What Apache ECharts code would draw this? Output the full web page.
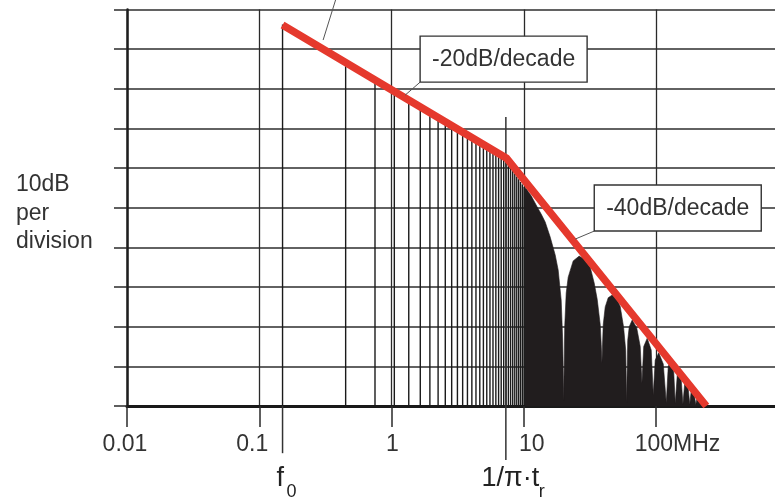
<!DOCTYPE html>
<html><head><meta charset="utf-8">
<script src="https://cdn.jsdelivr.net/npm/echarts@6/dist/echarts.min.js"></script>
<style>html,body{margin:0;padding:0;background:#fff}#c{width:775px;height:499px}</style>
</head><body><div id="c"></div>
<script>
// ---- data ----
const decadeLabels = ['0.01', '0.1', '1', '10', '100MHz'];
// discrete odd harmonics (MHz) and their level (dB, 10 dB per division)
const harmonicFreqs = [0.15,0.45,0.75,1.05,1.35,1.65,1.95,2.25,2.55,2.85,3.15,3.45,3.75,4.05,4.35,4.65,4.95,5.25,5.55,5.85,6.15,6.45,6.75,7.05,7.35,7.65,7.95,8.25,8.55,8.85,9.15,9.45,9.75,10.05,10.35];
const harmonicLevels = [96.2,86.7,82.2,79.3,77.1,75.4,73.9,72.7,71.6,70.6,69.8,69.0,68.2,67.6,67.0,66.4,65.8,65.3,64.8,64.4,63.9,63.5,63.1,62.8,61.8,61.0,60.2,59.4,58.6,57.9,57.2,56.5,55.9,55.3,54.7];
// outline of the dense (merged) part of the spectrum: sinc lobes
const lobeFreqs = [10.25,11.38,12.63,13.54,14.52,15.84,17.28,18.2,19.18,19.69,20.04,
  20.39,20.93,21.67,23.64,26.24,28.63,31.79,34.08,35.91,37.84,38.51,38.98,
  39.87,41.28,43.49,46.63,49.99,53.6,56.78,58.99,59.83,
  61.09,62.71,66.07,71.45,75.94,78.22,
  80.72,85.77,91.97,95.24,
  98.6,104.8,113.4,119.5,
  123.7,129.2,136.1,139.7,
  144.7,149.8,155.1,159.7,
  164.8,169.2,175.2,179.8,
  184.6,189.5,194.5,199.7,
  205.0,210.4,216.0,221.7,
  227.5,233.6,239.7];
const lobeLevels = [55.2,53.0,50.2,48.4,46.4,42.6,38.1,34.3,26.7,16.6,1.5,
  20.0,28.5,32.5,36.6,37.8,37.0,35.0,31.0,26.9,20.5,15.5,10.9,
  20.5,25.0,27.3,28.0,27.3,25.1,20.0,14.0,0.8,
  16.5,20.0,21.7,19.7,15.0,5.8,
  15.0,17.1,14.1,2.8,
  11.6,13.4,10.6,0.8,
  10.0,11.3,8.5,0.6,
  7.8,8.4,6.5,0.5,
  5.8,6.2,4.5,0.4,
  3.9,4.2,3.0,0.3,
  2.3,2.4,1.6,0.2,
  1.1,1.0,0];
// red asymptotic envelope
const envelopeFreqs = [0.15, 7.4, 240];
const envelopeLevels = [96.1, 62.5, 0];
// slope call-outs
const slopeLabels = ['-20dB/decade', '-40dB/decade'];
const slopeAnchorFreqs = [1.267, 24.5];
const slopeAnchorLevels = [78.4, 42.1];
// pointer from a label above the chart
const pointerFreqs = [0.304];
const pointerLevels = [92.3];
// frequency markers f0 and 1/(pi*tr)
const markerFreqs = [0.15, 7.32];
const markerTops = [0, 72.9];
const markerBottoms = [-11.9, -13.6];
const markerMain = ['f', '1/\u03C0\u00B7t'];
const markerSub = ['0', 'r'];
const scaleText = ['10dB', 'per', 'division'];

const FONT = '"Liberation Sans", Arial, Helvetica, sans-serif';
const TXT = '#333';

const labelShift = [-2, -7, 1, 8, 21.5];
const rich = {};
labelShift.forEach((s, i) => {
  rich['l' + i] = {fontFamily: FONT, fontSize: 23, color: TXT,
    padding: s >= 0 ? [0, 0, 0, 2 * s] : [0, -2 * s, 0, 0]};
});

const chart = echarts.init(document.getElementById('c'), null, {renderer: 'canvas'});
chart.setOption({
  animation: false,
  backgroundColor: '#fff',
  grid: {left: 127, right: -13.3, top: 9.5, bottom: 93, containLabel: false, outerBoundsMode: 'none'},
  xAxis: [{
    type: 'log', logBase: 10, min: 0.01, max: 1000,
    axisLine: {show: true, onZero: false, lineStyle: {color: '#1a1a1a', width: 3}},
    axisTick: {show: true, length: 21, lineStyle: {color: '#2a2a2a', width: 1.5}},
    minorTick: {show: false}, minorSplitLine: {show: false},
    splitLine: {show: true, lineStyle: {color: '#2a2a2a', width: 1.3}},
    axisLabel: {
      margin: 27, fontFamily: FONT, fontSize: 23, color: TXT, rich: rich,
      formatter: v => {
        const i = Math.round(Math.log10(v)) + 2;
        if (i < 0 || i >= decadeLabels.length) return '';
        return '{l' + i + '|' + decadeLabels[i] + '}';
      }
    }
  }, {
    type: 'log', logBase: 10, min: 0.01, max: 1000, position: 'top',
    axisLine: {show: true, lineStyle: {color: '#1a1a1a', width: 2.5}},
    axisTick: {show: false}, axisLabel: {show: false}, splitLine: {show: false}
  }],
  yAxis: {
    type: 'value', min: 0, max: 100, interval: 10,
    axisLabel: {show: false},
    axisTick: {show: true, length: 13, lineStyle: {color: '#2a2a2a', width: 1.5}},
    axisLine: {show: true, lineStyle: {color: '#1e1e1e', width: 2.5}},
    splitLine: {show: true, lineStyle: {color: '#2e2e2e', width: 1.5}}
  },
  graphic: scaleText.map((t, i) => ({
    type: 'text', left: 16, top: [173.5, 202, 230.5][i],
    style: {text: t, font: '23px ' + FONT, fill: TXT}
  })),
  series: [
    {
      type: 'custom', name: 'harmonics', silent: true, z: 3,
      data: harmonicFreqs.map((f, i) => [f, harmonicLevels[i]]),
      encode: {x: 0, y: 1},
      renderItem: (p, api) => {
        const a = api.coord([api.value(0), 0]);
        const b = api.coord([api.value(0), api.value(1)]);
        return {type: 'line', shape: {x1: a[0], y1: a[1], x2: b[0], y2: b[1]},
          style: {stroke: '#1a1a1a', lineWidth: 1.4}};
      }
    },
    {
      type: 'line', name: 'lobes', silent: true, z: 3, symbol: 'none',
      data: lobeFreqs.map((f, i) => [f, lobeLevels[i]]),
      lineStyle: {color: '#211d1e', width: 0.6},
      areaStyle: {color: '#211d1e', opacity: 1}
    },
    {
      type: 'custom', name: 'markers', silent: true, z: 4, clip: false,
      data: markerFreqs.map((f, i) => [f, markerTops[i], markerBottoms[i]]),
      encode: {x: 0, y: [1, 2]},
      renderItem: (p, api) => {
        const i = p.dataIndex;
        const a = api.coord([api.value(0), api.value(1)]);
        const b = api.coord([api.value(0), api.value(2)]);
        const mx = i === 0 ? -6 : -24.3, my = i === 0 ? 12 : 5;
        const sx = i === 0 ? 4 : 33, sy = i === 0 ? 30 : 23;
        return {type: 'group', children: [
          {type: 'line', shape: {x1: a[0], y1: a[1], x2: b[0], y2: b[1]},
            style: {stroke: '#333', lineWidth: 1.5}},
          {type: 'text', x: b[0] + mx, y: b[1] + my,
            style: {text: markerMain[i], font: '27px ' + FONT, fill: '#222', verticalAlign: 'top', align: 'left'}},
          {type: 'text', x: b[0] + sx, y: b[1] + sy,
            style: {text: markerSub[i], font: '18px ' + FONT, fill: '#222', verticalAlign: 'top', align: 'left'}}
        ]};
      }
    },
    {
      type: 'line', name: 'envelope', silent: true, z: 5, symbol: 'none',
      data: envelopeFreqs.map((f, i) => [f, envelopeLevels[i]]),
      lineStyle: {color: '#e5392d', width: 7.5, cap: 'butt', join: 'miter'}
    },
    {
      type: 'custom', name: 'pointer', silent: true, z: 6, clip: false,
      data: pointerFreqs.map((f, i) => [f, pointerLevels[i]]),
      encode: {x: 0, y: 1},
      renderItem: (p, api) => {
        const a = api.coord([api.value(0), api.value(1)]);
        return {type: 'line', shape: {x1: a[0], y1: a[1], x2: a[0] + 14, y2: a[1] - 45},
          style: {stroke: '#555', lineWidth: 1}};
      }
    },
    {
      type: 'custom', name: 'callouts', silent: true, z: 10, clip: false,
      data: slopeAnchorFreqs.map((f, i) => [f, slopeAnchorLevels[i]]),
      encode: {x: 0, y: 1},
      renderItem: (p, api) => {
        const i = p.dataIndex;
        const a = api.coord([api.value(0), api.value(1)]);
        const off = i === 0 ? [15, -13] : [19, -8];
        const bx = a[0] + off[0], by = a[1] + off[1];
        const w = 167, h = 46;
        return {type: 'group', children: [
          {type: 'line', shape: {x1: a[0], y1: a[1], x2: bx, y2: by},
            style: {stroke: '#555', lineWidth: 1}},
          {type: 'rect', shape: {x: bx, y: by - h, width: w, height: h},
            style: {fill: '#fff', stroke: '#333', lineWidth: 1.4}},
          {type: 'text', x: bx + w / 2, y: by - h / 2 + 1,
            style: {text: slopeLabels[i], font: '23px ' + FONT, fill: TXT, align: 'center', verticalAlign: 'middle'}}
        ]};
      }
    }
  ]
});
</script></body></html>
